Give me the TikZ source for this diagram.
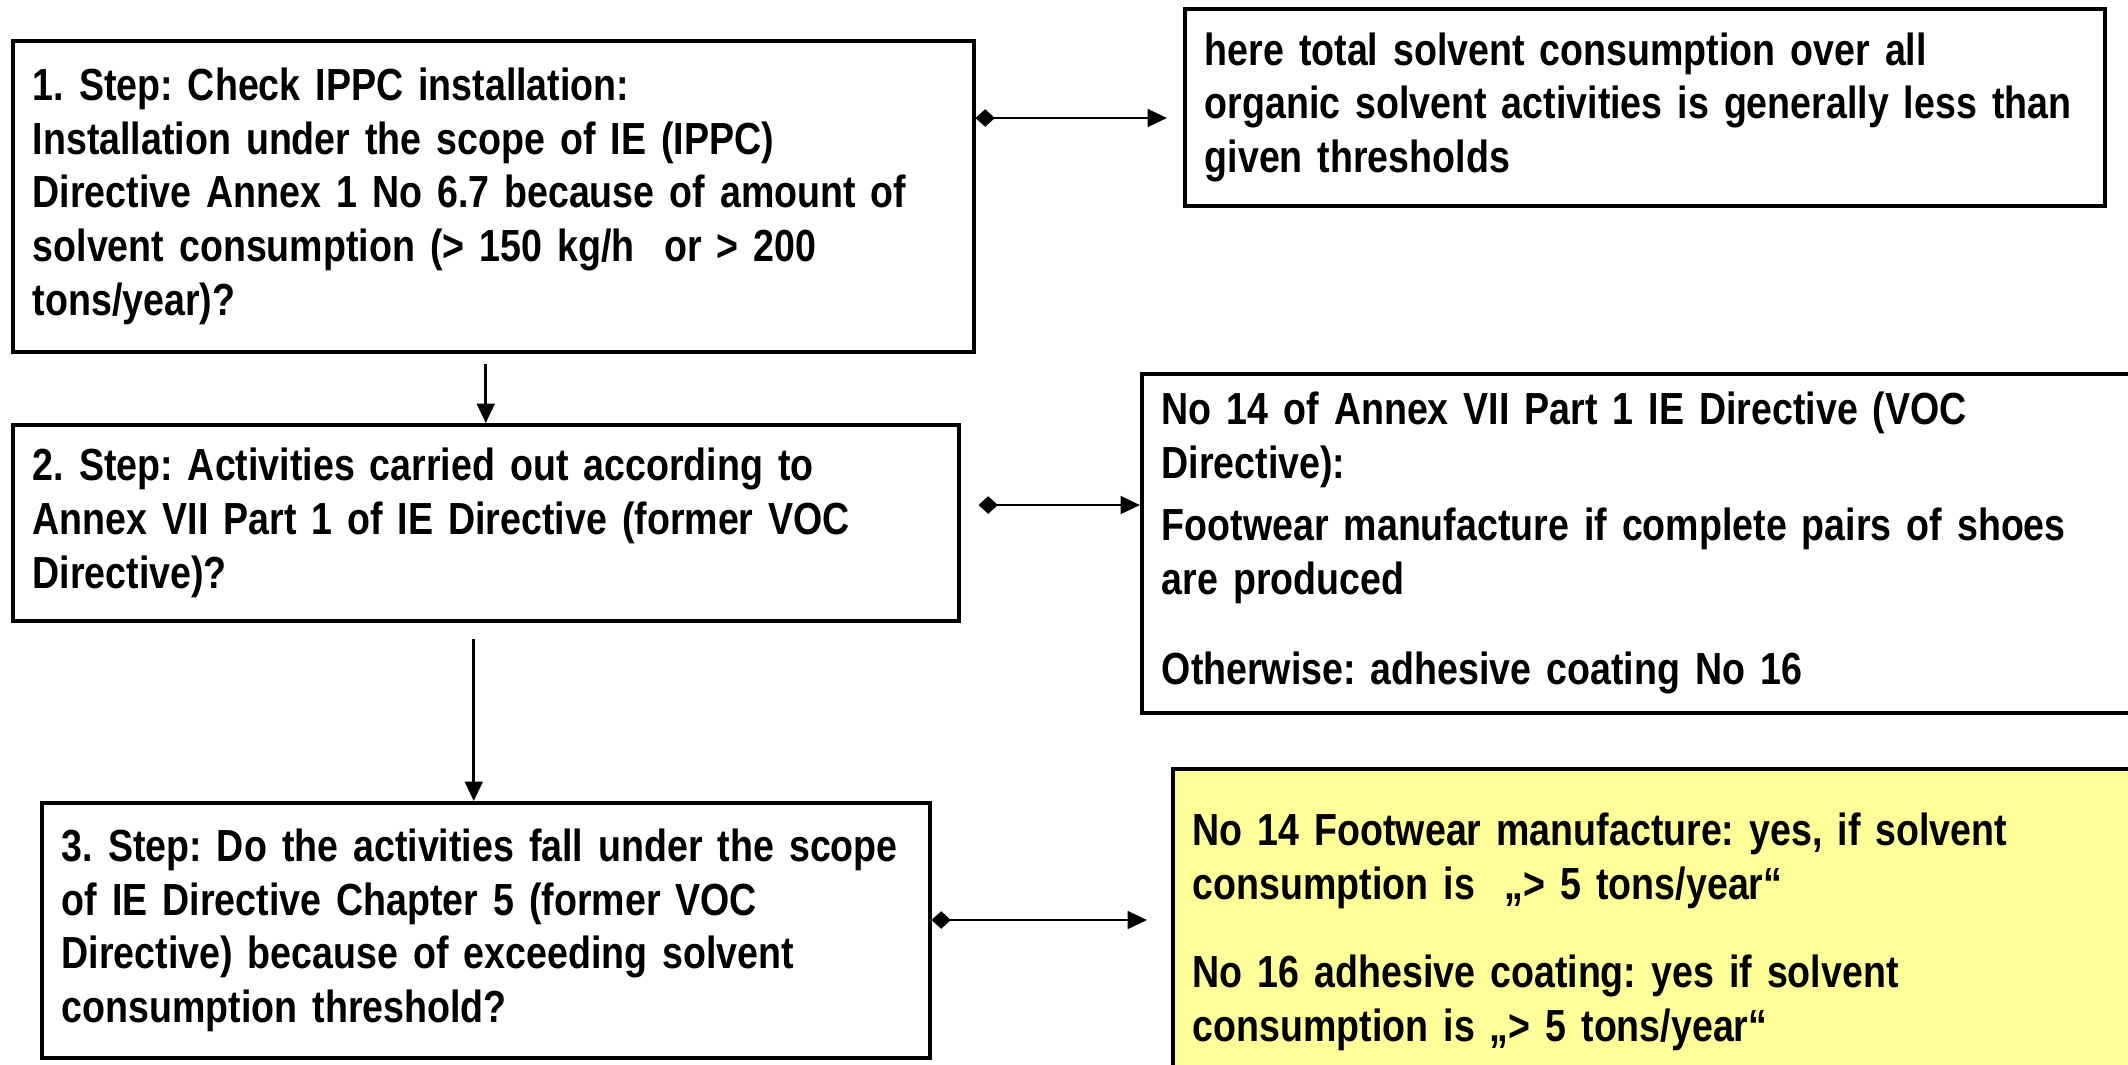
\documentclass[tikz,border=0pt]{standalone}
\usepackage{fontspec}
\setmainfont{Liberation Sans}[FakeStretch=0.835]
\usepackage{tikz}
\usetikzlibrary{arrows.meta,calc}
\definecolor{notefill}{HTML}{FFFF99}
\frenchspacing

\begin{document}
\begin{tikzpicture}[
  stepbox/.style={draw=black, line width=1pt, anchor=north west, align=left,
    inner xsep=0.2cm, inner ysep=0pt,
    font=\bfseries\fontsize{12.8}{15.3}\selectfont},
  flow/.style={line width=0.8pt, {Diamond[length=5.5pt,width=5pt]}-{Triangle[length=5.5pt,width=5pt]}},
  down/.style={line width=0.8pt, -{Triangle[length=5.5pt,width=5pt]}}]
\useasboundingbox (0cm,0cm) rectangle (21.28cm,-10.64cm);
\node[stepbox, minimum width=9.61cm, minimum height=3.11cm, text width=9.21cm] (step1) at (0.11cm,-0.39cm)
  {1. Step: Check IPPC installation:\\ Installation under the scope of IE (IPPC)\\ Directive Annex 1 No 6.7 because of amount of\\ solvent consumption (> 150 kg/h~ or > 200\\ tons/year)?\\[0.1cm]};
\node[stepbox, minimum width=9.20cm, minimum height=1.97cm, text width=8.80cm] (note1) at (11.83cm,-0.07cm)
  {here total solvent consumption over all\\ organic solvent activities is generally less than\\ given thresholds};
\node[stepbox, minimum width=9.46cm, minimum height=1.96cm, text width=9.06cm] (step2) at (0.11cm,-4.23cm)
  {2. Step: Activities carried out according to\\ Annex VII Part 1 of IE Directive (former VOC\\ Directive)?};
\node[stepbox, minimum width=10.2cm, minimum height=3.39cm, text width=9.8cm] (note2) at (11.40cm,-3.72cm)
  {No 14 of Annex VII Part 1 IE Directive (VOC\\ Directive):\\[0.08cm] Footwear manufacture if complete pairs of shoes\\ are produced\\[0.37cm] Otherwise: adhesive coating No 16};
\node[stepbox, minimum width=8.88cm, minimum height=2.55cm, text width=8.48cm] (step3) at (0.40cm,-8.01cm)
  {3. Step: Do the activities fall under the scope\\ of IE Directive Chapter 5 (former VOC\\ Directive) because of exceeding solvent\\ consumption threshold?};
\node[stepbox, fill=notefill, minimum width=9.8cm, minimum height=3.26cm, text width=9.4cm] (note3) at (11.71cm,-7.67cm)
  {No 14 Footwear manufacture: yes, if solvent\\ consumption is~ „> 5 tons/year“\\[0.35cm] No 16 adhesive coating: yes if solvent\\ consumption is „> 5 tons/year“};
\draw[flow, shorten >=0.16cm] ([yshift=-0.79cm]step1.north east) coordinate (a1) -- (a1 -| note1.west);
\draw[down, shorten <=0.1cm] ([xshift=-0.075cm]step1.south) coordinate (d1) -- (d1 |- step2.north);
\draw[flow, shorten <=0.18cm] ([yshift=-0.82cm]step2.north east) coordinate (a2) -- (a2 -| note2.west);
\draw[down, shorten <=0.16cm] ([xshift=-0.12cm]step2.south) coordinate (d2) -- (d2 |- step3.north);
\draw[flow, shorten >=0.24cm] ([yshift=-1.19cm]step3.north east) coordinate (a3) -- (a3 -| note3.west);
\end{tikzpicture}
\end{document}
